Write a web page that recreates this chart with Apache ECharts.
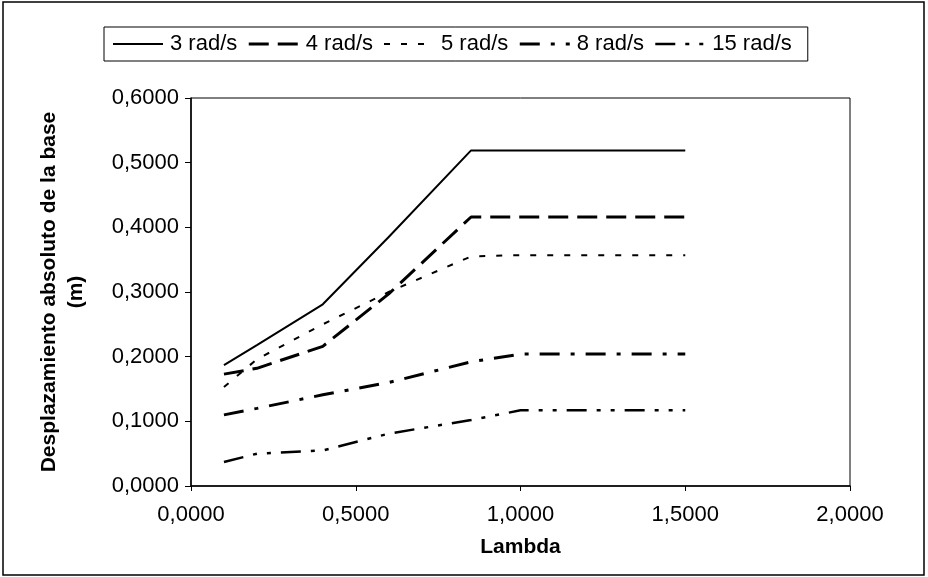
<!DOCTYPE html>
<html>
<head>
<meta charset="utf-8">
<script src="https://cdn.jsdelivr.net/npm/echarts@6/dist/echarts.min.js"></script>
<style>
  html, body { margin: 0; padding: 0; background: #fff; }
  #chart { width: 928px; height: 577px; }
</style>
</head>
<body>
<div id="chart"></div>
<script>
// Lambda values (x) shared by every curve
const lambda = [0.1, 0.2, 0.4, 0.6, 0.85, 1.0, 1.5];

// Absolute base displacement (m) for each excitation frequency
const w3  = [0.187, 0.218, 0.281, 0.385, 0.519, 0.519, 0.519];
const w4  = [0.173, 0.182, 0.216, 0.297, 0.416, 0.416, 0.416];
const w5  = [0.153, 0.196, 0.250, 0.300, 0.355, 0.357, 0.357];
const w8  = [0.110, 0.120, 0.141, 0.160, 0.192, 0.204, 0.204];
const w15 = [0.037, 0.050, 0.055, 0.081, 0.102, 0.117, 0.117];

const seriesNames = ['3 rad/s', '4 rad/s', '5 rad/s', '8 rad/s', '15 rad/s'];
const seriesValues = [w3, w4, w5, w8, w15];

const yTicks = [0, 0.1, 0.2, 0.3, 0.4, 0.5, 0.6];
const xTicks = [0, 0.5, 1.0, 1.5, 2.0];

// line look per curve
const styles = [
  { type: 'solid', width: 2 },
  { type: [20, 9], width: 3 },
  { type: [6, 11], width: 2 },
  { type: [20, 11, 4, 11], width: 3 },
  { type: [20, 10, 4, 10, 4, 10], width: 2.5 }
];

const fmt = v => v.toFixed(4).replace('.', ',');
const FONT = '"Liberation Sans", Arial, sans-serif';

const chart = echarts.init(document.getElementById('chart'), null, { renderer: 'canvas' });

chart.setOption({
  backgroundColor: '#ffffff',
  animation: false,
  textStyle: { fontFamily: FONT, color: '#000' },
  graphic: [{
    type: 'rect',
    shape: { x: 3, y: 2, width: 921, height: 573 },
    style: { fill: 'none', stroke: '#000', lineWidth: 1.5 },
    silent: true
  }],
  legend: {
    left: 104,
    top: 27,
    orient: 'horizontal',
    itemWidth: 50,
    itemHeight: 14,
    itemGap: 10,
    padding: [6, 16, 6, 8],
    borderColor: '#000',
    borderWidth: 1,
    itemStyle: { opacity: 0 },
    lineStyle: { type: 'inherit', width: 'inherit' },
    textStyle: { fontFamily: FONT, fontSize: 22, color: '#000', padding: [0, 0, 0, 2] },
    data: seriesNames
  },
  grid: {
    left: 191,
    right: 78,
    top: 98,
    bottom: 91,
    show: true,
    borderColor: '#000',
    borderWidth: 1,
    containLabel: false
  },
  xAxis: {
    type: 'value',
    min: 0,
    max: 2,
    interval: 0.5,
    name: 'Lambda',
    nameLocation: 'middle',
    nameGap: 51,
    nameTextStyle: { fontFamily: FONT, fontSize: 21, fontWeight: 'bold', color: '#000' },
    axisLine: { show: true, onZero: false, lineStyle: { color: '#000', width: 1.5 } },
    axisTick: { show: true, length: 5, lineStyle: { color: '#000' } },
    axisLabel: {
      margin: 18,
      fontFamily: FONT,
      fontSize: 22,
      color: '#000',
      formatter: v => xTicks.includes(v) ? fmt(v) : ''
    },
    splitLine: { show: false }
  },
  yAxis: {
    type: 'value',
    min: 0,
    max: 0.6,
    interval: 0.1,
    name: 'Desplazamiento absoluto de la base\n(m)',
    nameLocation: 'middle',
    nameGap: 101,
    nameRotate: 90,
    nameTextStyle: { fontFamily: FONT, fontSize: 21, fontWeight: 'bold', color: '#000', lineHeight: 27, align: 'center' },
    axisLine: { show: true, lineStyle: { color: '#000', width: 1.5 } },
    axisTick: { show: true, length: 6, lineStyle: { color: '#000' } },
    axisLabel: {
      margin: 12,
      fontFamily: FONT,
      fontSize: 22,
      color: '#000',
      formatter: v => fmt(v)
    },
    splitLine: { show: false }
  },
  series: seriesNames.map((name, i) => ({
    name: name,
    type: 'line',
    symbol: 'none',
    smooth: false,
    color: '#000',
    lineStyle: { color: '#000', width: styles[i].width, type: styles[i].type },
    data: lambda.map((x, k) => [x, seriesValues[i][k]])
  }))
});
</script>
</body>
</html>
